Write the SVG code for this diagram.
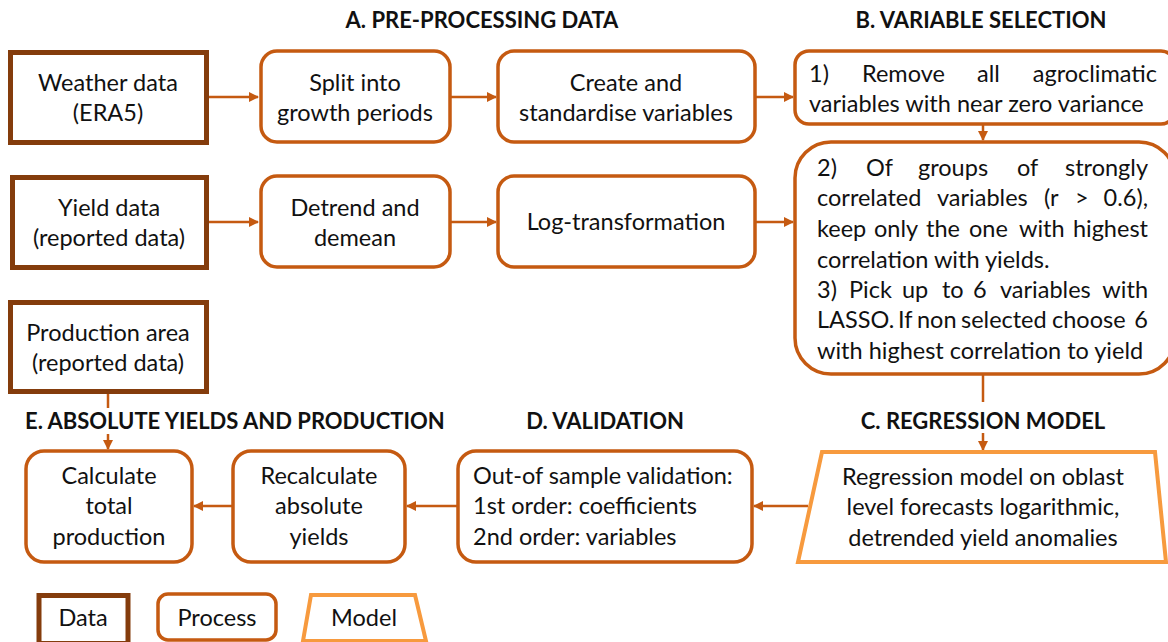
<svg xmlns="http://www.w3.org/2000/svg" width="1168" height="642" viewBox="0 0 1168 642">
  <style>
    text { font-family: Lato, "Liberation Sans", sans-serif; font-size: 23.5px; fill: #111; }
    .c { text-anchor: middle; }
    .e { text-anchor: end; }
    .title { font-weight: bold; font-size: 22px; }
    .data { fill: #fff; stroke: #843C0C; stroke-width: 5; }
    .proc { fill: #fff; stroke: #C55A11; stroke-width: 3.5; }
    .model { fill: #fff; stroke: #F79A3E; stroke-width: 4; }
    .conn { stroke: #C55A11; stroke-width: 2.5; fill: none; }
  </style>
  <defs>
    <marker id="arr" viewBox="0 0 10 10" refX="9" refY="5" markerWidth="4" markerHeight="4" orient="auto" markerUnits="strokeWidth">
      <path d="M0,0 L10,5 L0,10 Z" fill="#C55A11"/>
    </marker>
  </defs>

  <rect width="1168" height="642" fill="#fff"/>

  <!-- section titles -->
  <g id="titles">
    <text class="title c" x="482" y="28">A. PRE-PROCESSING DATA</text>
    <text class="title c" x="981" y="28">B. VARIABLE SELECTION</text>
    <text class="title" x="25" y="429">E. ABSOLUTE YIELDS AND PRODUCTION</text>
    <text class="title c" x="605" y="429">D. VALIDATION</text>
    <text class="title c" x="983" y="429">C. REGRESSION MODEL</text>
  </g>

  <!-- connectors -->
  <g id="connectors">
    <path class="conn" d="M208,97 H258" marker-end="url(#arr)"/>
    <path class="conn" d="M450,97 H496" marker-end="url(#arr)"/>
    <path class="conn" d="M755,97 H793" marker-end="url(#arr)"/>
    <path class="conn" d="M208,222 H258" marker-end="url(#arr)"/>
    <path class="conn" d="M450,222 H496" marker-end="url(#arr)"/>
    <path class="conn" d="M755,222 H793" marker-end="url(#arr)"/>
    <path class="conn" d="M983,125 V140" marker-end="url(#arr)"/>
    <path class="conn" d="M983,375 V402"/>
    <path class="conn" d="M983,433 V450" marker-end="url(#arr)"/>
    <path class="conn" d="M808,506 H754" marker-end="url(#arr)"/>
    <path class="conn" d="M457,506 H407" marker-end="url(#arr)"/>
    <path class="conn" d="M233,506 H194" marker-end="url(#arr)"/>
    <path class="conn" d="M108,394 V408"/>
    <path class="conn" d="M108,434 V449" marker-end="url(#arr)"/>
  </g>

  <!-- data inputs -->
  <g id="weather">
    <rect class="data" x="10.5" y="52.5" width="196" height="90"/>
    <text class="c" x="108" y="91">Weather data</text>
    <text class="c" x="108" y="121">(ERA5)</text>
  </g>
  <g id="yield">
    <rect class="data" x="12.5" y="177.5" width="194" height="90"/>
    <text class="c" x="109" y="216">Yield data</text>
    <text class="c" x="109" y="246">(reported data)</text>
  </g>
  <g id="area">
    <rect class="data" x="10.5" y="302.5" width="196" height="89"/>
    <text class="c" x="108" y="341">Production area</text>
    <text class="c" x="108" y="371">(reported data)</text>
  </g>

  <!-- pre-processing -->
  <g id="split">
    <rect class="proc" x="261" y="51" width="189" height="91" rx="16"/>
    <text class="c" x="355" y="91">Split into</text>
    <text class="c" x="355" y="121">growth periods</text>
  </g>
  <g id="create">
    <rect class="proc" x="498" y="51" width="257" height="91" rx="16"/>
    <text class="c" x="626" y="91">Create and</text>
    <text class="c" x="626" y="121">standardise variables</text>
  </g>
  <g id="detrend">
    <rect class="proc" x="261" y="176" width="189" height="91" rx="16"/>
    <text class="c" x="355" y="216">Detrend and</text>
    <text class="c" x="355" y="246">demean</text>
  </g>
  <g id="log">
    <rect class="proc" x="498" y="176" width="257" height="91" rx="16"/>
    <text class="c" x="626" y="230">Log-transformation</text>
  </g>

  <!-- variable selection (justified lines placed word by word) -->
  <g id="step1">
    <rect class="proc" x="795" y="51" width="380" height="73" rx="14"/>
    <text x="809" y="82">1)</text>
    <text x="862" y="82">Remove</text>
    <text x="977" y="82">all</text>
    <text class="e" x="1157" y="82">agroclimatic</text>
    <text x="809" y="112">variables with near zero variance</text>
  </g>
  <g id="step23">
    <rect class="proc" x="795" y="142" width="380" height="232" rx="36"/>
    <text x="817" y="176">2)</text>
    <text x="866" y="176">Of</text>
    <text x="918" y="176">groups</text>
    <text x="1017" y="176">of</text>
    <text class="e" x="1148" y="176">strongly</text>
    <text x="817" y="206">correlated</text>
    <text x="937" y="206">variables</text>
    <text x="1044" y="206">(r</text>
    <text x="1075" y="206">&gt;</text>
    <text class="e" x="1148" y="206">0.6),</text>
    <text x="817" y="237">keep</text>
    <text x="874" y="237">only</text>
    <text x="926" y="237">the</text>
    <text x="969" y="237">one</text>
    <text x="1019" y="237">with</text>
    <text class="e" x="1148" y="237">highest</text>
    <text x="817" y="268">correlation with yields.</text>
    <text x="817" y="298">3)</text>
    <text x="849" y="298">Pick</text>
    <text x="902" y="298">up</text>
    <text x="942" y="298">to</text>
    <text x="973" y="298">6</text>
    <text x="1000" y="298">variables</text>
    <text class="e" x="1148" y="298">with</text>
    <text x="817" y="328">LASSO.</text>
    <text x="898" y="328">If</text>
    <text x="917" y="328">non</text>
    <text x="961" y="328">selected</text>
    <text x="1052" y="328">choose</text>
    <text class="e" x="1148" y="328">6</text>
    <text x="817" y="359">with highest correlation to yield</text>
  </g>

  <!-- regression model -->
  <g id="regression">
    <polygon class="model" points="822,452 1155,452 1166,562 798,562"/>
    <text class="c" x="983" y="485">Regression model on oblast</text>
    <text class="c" x="983" y="515">level forecasts logarithmic,</text>
    <text class="c" x="983" y="546">detrended yield anomalies</text>
  </g>

  <!-- validation -->
  <g id="validation">
    <rect class="proc" x="458" y="451" width="294" height="111" rx="18"/>
    <text x="473" y="484">Out-of sample validation:</text>
    <text x="473" y="514">1st order: coefficients</text>
    <text x="473" y="545">2nd order: variables</text>
  </g>

  <!-- absolute yields and production -->
  <g id="recalc">
    <rect class="proc" x="233" y="451" width="172" height="111" rx="18"/>
    <text class="c" x="319" y="484">Recalculate</text>
    <text class="c" x="319" y="514">absolute</text>
    <text class="c" x="319" y="545">yields</text>
  </g>
  <g id="total">
    <rect class="proc" x="26" y="451" width="166" height="111" rx="18"/>
    <text class="c" x="109" y="484">Calculate</text>
    <text class="c" x="109" y="514">total</text>
    <text class="c" x="109" y="545">production</text>
  </g>

  <!-- legend -->
  <g id="legend">
    <rect class="data" x="39" y="595.5" width="89" height="48"/>
    <text class="c" x="83" y="626">Data</text>
    <rect class="proc" x="158" y="594" width="118" height="46" rx="10"/>
    <text class="c" x="217" y="626">Process</text>
    <polygon class="model" points="311,595 415,595 426,641 303,641"/>
    <text class="c" x="364" y="626">Model</text>
  </g>
</svg>
